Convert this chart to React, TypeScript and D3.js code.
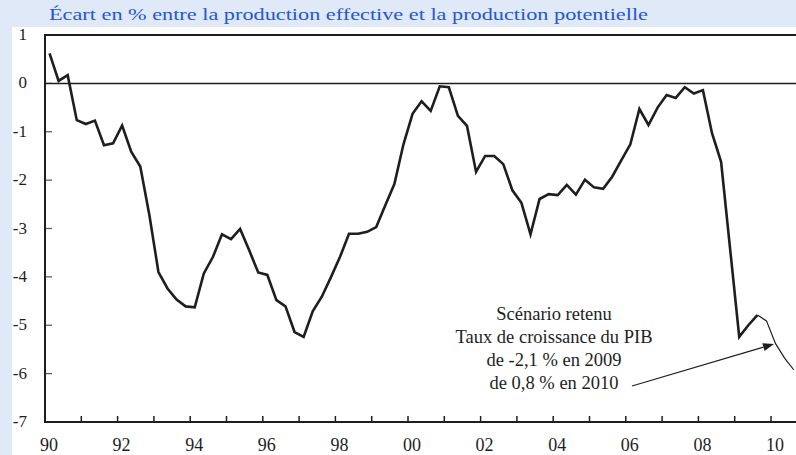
import React, { useEffect } from "react";
import * as d3 from "d3";

const W = 796;
const H = 455;

// Quarterly output gap, 1990Q1 ... 2009Q3 (observed)
const histValues: number[] = [
  0.62, 0.05, 0.17, -0.76, -0.84, -0.77, -1.28, -1.24, -0.87, -1.41,
  -1.72, -2.72, -3.9, -4.24, -4.47, -4.61, -4.63, -3.93, -3.59, -3.12,
  -3.22, -3.01, -3.45, -3.91, -3.96, -4.48, -4.61, -5.14, -5.24, -4.71,
  -4.41, -4.01, -3.59, -3.11, -3.11, -3.07, -2.97, -2.52, -2.08, -1.26,
  -0.63, -0.37, -0.57, -0.06, -0.08, -0.67, -0.88, -1.83, -1.5, -1.5,
  -1.67, -2.21, -2.47, -3.12, -2.39, -2.29, -2.31, -2.1, -2.3, -1.99,
  -2.15, -2.18, -1.93, -1.59, -1.26, -0.53, -0.86, -0.5, -0.24, -0.3,
  -0.08, -0.21, -0.14, -1.03, -1.62, -3.43, -5.24, -5.0, -4.79,
];
// Scenario (forecast) starting at the last observed quarter
const forecastValues: number[] = [-4.79, -4.91, -5.38, -5.68, -5.92];

const yTicks: number[] = [1, 0, -1, -2, -3, -4, -5, -6, -7];
const xTickYears: number[] = d3.range(1990, 2011);
const xLabelYears: number[] = [1990, 1992, 1994, 1996, 1998, 2000, 2002, 2004, 2006, 2008, 2010];

const title = "Écart en % entre la production effective et la production potentielle";
const annotation: string[] = [
  "Scénario retenu",
  "Taux de croissance du PIB",
  "de -2,1 % en 2009",
  "de 0,8 % en 2010",
];

const quarterYear = (i: number) => 1990 + i / 4 + 0.125;

export default function App() {
  useEffect(() => {
    document.body.style.margin = "0";
  }, []);

  const left = 45;
  const top = 35;
  const bottom = 422;
  const x = d3.scaleLinear().domain([1990, 2010]).range([left, 771]);
  const y = d3.scaleLinear().domain([-7, 1]).range([bottom, top]);

  const line = d3
    .line<number>()
    .x((_, i) => x(quarterYear(i)))
    .y((d) => y(d));
  const fLine = d3
    .line<number>()
    .x((_, i) => x(quarterYear(i + histValues.length - 1)))
    .y((d) => y(d));

  const font = "'Liberation Serif', 'Times New Roman', serif";
  const dark = "#1e1e1e";

  // arrow geometry
  const ax0 = 632, ay0 = 386, ax1 = 774, ay1 = 344;
  const ang = Math.atan2(ay1 - ay0, ax1 - ax0);
  const hl = 11, hw = 4;
  const bx = ax1 - hl * Math.cos(ang), by = ay1 - hl * Math.sin(ang);
  const px = -Math.sin(ang) * hw, py = Math.cos(ang) * hw;

  return (
    <svg width={W} height={H} style={{ display: "block" }} fontFamily={font}>
      <defs>
        <clipPath id="plotclip">
          <rect x={left} y={0} width={W - left} height={H} />
        </clipPath>
      </defs>
      <rect x={0} y={0} width={W} height={H} fill="#dfe9f8" />
      <rect x={12} y={27} width={W - 12} height={H - 27} fill="#ffffff" />
      <text x={49} y={20} fontSize={17} fill="#2457d6" textLength={599} lengthAdjust="spacingAndGlyphs">
        {title}
      </text>

      {/* y ticks inside */}
      {yTicks.map((t) => (
        <g key={"y" + t}>
          <line x1={left} x2={left + 7} y1={y(t)} y2={y(t)} stroke="#555" strokeWidth={1.2} />
          <text x={27} y={y(t) + 5} fontSize={17} textAnchor="end" fill={dark}>
            {t}
          </text>
        </g>
      ))}
      {/* x ticks inside */}
      {xTickYears.map((t) => (
        <line key={"x" + t} x1={x(t)} x2={x(t)} y1={bottom} y2={bottom - 6} stroke={dark} strokeWidth={1.5} />
      ))}
      {xLabelYears.map((t) => (
        <text key={"xl" + t} x={x(t) + 4} y={451} fontSize={18} textAnchor="middle" fill={dark}>
          {String(t % 100).padStart(2, "0")}
        </text>
      ))}

      {/* frame */}
      <line x1={left} x2={W} y1={top} y2={top} stroke={dark} strokeWidth={2} />
      <line x1={left} x2={W} y1={y(0)} y2={y(0)} stroke={dark} strokeWidth={1.5} />
      <line x1={left} x2={left} y1={top - 1} y2={bottom + 1} stroke={dark} strokeWidth={2} />
      <line x1={left - 1} x2={W} y1={bottom} y2={bottom} stroke={dark} strokeWidth={2.2} />

      <g clipPath="url(#plotclip)">
        <path d={line(histValues) || ""} fill="none" stroke={dark} strokeWidth={2.6} strokeLinejoin="miter" />
        <path d={fLine(forecastValues) || ""} fill="none" stroke={dark} strokeWidth={1.2} />
      </g>

      {annotation.map((s, i) => (
        <text key={s} x={554} y={320 + i * 23} fontSize={18.5} textAnchor="middle" fill={dark}>
          {s}
        </text>
      ))}
      <line x1={ax0} y1={ay0} x2={bx} y2={by} stroke={dark} strokeWidth={1.2} />
      <path d={`M${ax1},${ay1}L${bx + px},${by + py}L${bx - px},${by - py}Z`} fill={dark} />
    </svg>
  );
}
